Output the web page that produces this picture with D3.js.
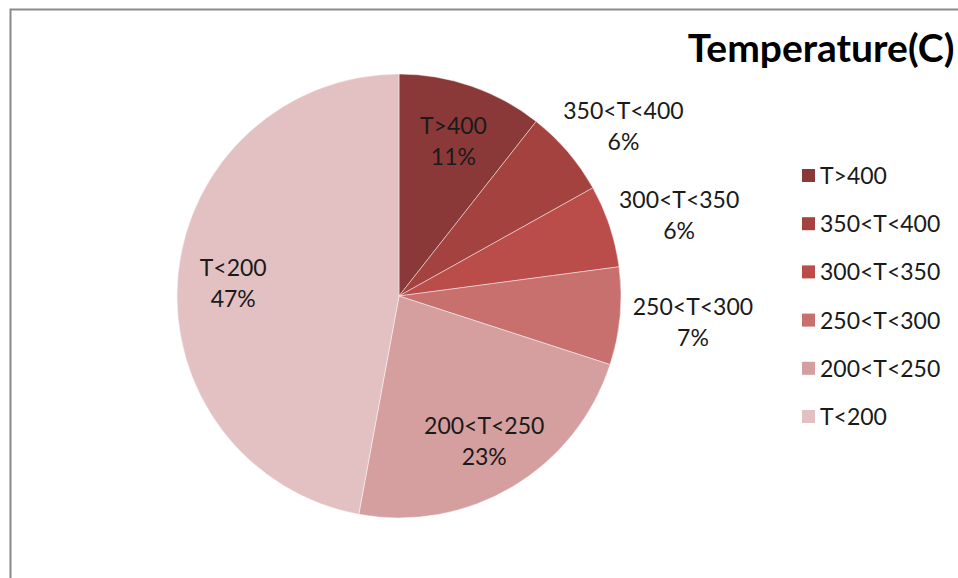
<!DOCTYPE html>
<html>
<head>
<meta charset="utf-8">
<script src="https://cdn.jsdelivr.net/npm/d3@7"></script>
<style>
  html, body { margin: 0; padding: 0; background: #fff; }
  svg { display: block; }
  text { font-family: Lato, "Open Sans", sans-serif; }
</style>
</head>
<body>
<svg id="chart" width="958" height="578"></svg>
<script>
const categories = ["T>400", "350<T<400", "300<T<350", "250<T<300", "200<T<250", "T<200"];
const values = [10.6, 6.3, 6.0, 7.1, 22.9, 47.1];
const colors = ["#8B3938", "#A3423F", "#BA4C49", "#C8706E", "#D69F9F", "#E3C1C3"];
const title = "Temperature(C)";

const W = 958, H = 578;
const cx = 399, cy = 296, R = 222;
const FS = 23;
const svg = d3.select("#chart");

// chart frame
svg.append("rect")
  .attr("x", 10.5).attr("y", 9.5)
  .attr("width", 980).attr("height", 600)
  .attr("fill", "#fff").attr("stroke", "#8a8a8a").attr("stroke-width", 2);

const data = categories.map((c, i) => ({ cat: c, value: values[i], color: colors[i] }));
const total = d3.sum(values);

const pie = d3.pie().sort(null).value(d => d.value);
const arcs = pie(data);
const arc = d3.arc().innerRadius(0).outerRadius(R);
const inArc = d3.arc().innerRadius(R * 0.75).outerRadius(R * 0.75);
const edgeArc = d3.arc().innerRadius(R + 13).outerRadius(R + 13);

const g = svg.append("g").attr("transform", `translate(${cx},${cy})`);

g.selectAll("path.slice")
  .data(arcs)
  .enter().append("path")
  .attr("class", "slice")
  .attr("d", arc)
  .attr("fill", d => d.data.color)
  .attr("stroke", "rgba(255,255,255,0.45)")
  .attr("stroke-width", 1);

const labels = g.selectAll("g.lbl")
  .data(arcs)
  .enter().append("g")
  .attr("class", "lbl");

labels.append("text")
  .attr("text-anchor", "middle")
  .attr("y", -5)
  .attr("font-size", FS)
  .attr("fill", "#1a1a1a")
  .text(d => d.data.cat);

labels.append("text")
  .attr("text-anchor", "middle")
  .attr("y", 26)
  .attr("font-size", FS)
  .attr("fill", "#1a1a1a")
  .text(d => Math.round(d.data.value / total * 100) + "%");

// position labels: inside for big slices, outside (box beside the edge) for small ones
labels.attr("transform", function(d) {
  const frac = d.data.value / total;
  if (frac > 0.1) {
    const p = inArc.centroid(d);
    return `translate(${p[0]},${p[1]})`;
  }
  const bb = this.getBBox();
  const mid = (d.startAngle + d.endAngle) / 2;
  const p = edgeArc.centroid(d);
  const x = p[0] + Math.sin(mid) * bb.width / 2;
  const y = p[1] - Math.cos(mid) * bb.height / 2;
  return `translate(${x},${y})`;
});

// title
svg.append("text")
  .attr("x", 821).attr("y", 62)
  .attr("text-anchor", "middle")
  .attr("font-size", 39)
  .attr("font-weight", "bold")
  .attr("fill", "#000")
  .text(title);

// legend
const legend = svg.append("g").attr("transform", "translate(802,176)");
const rowScale = d3.scalePoint().domain(categories).range([0, 241]);
const items = legend.selectAll("g.item")
  .data(data)
  .enter().append("g")
  .attr("class", "item")
  .attr("transform", d => `translate(0,${rowScale(d.cat)})`);
items.append("rect")
  .attr("x", 0).attr("y", -7)
  .attr("width", 13).attr("height", 13)
  .attr("fill", d => d.color);
items.append("text")
  .attr("x", 18).attr("y", 8)
  .attr("font-size", FS)
  .attr("fill", "#1a1a1a")
  .text(d => d.cat);
</script>
</body>
</html>
